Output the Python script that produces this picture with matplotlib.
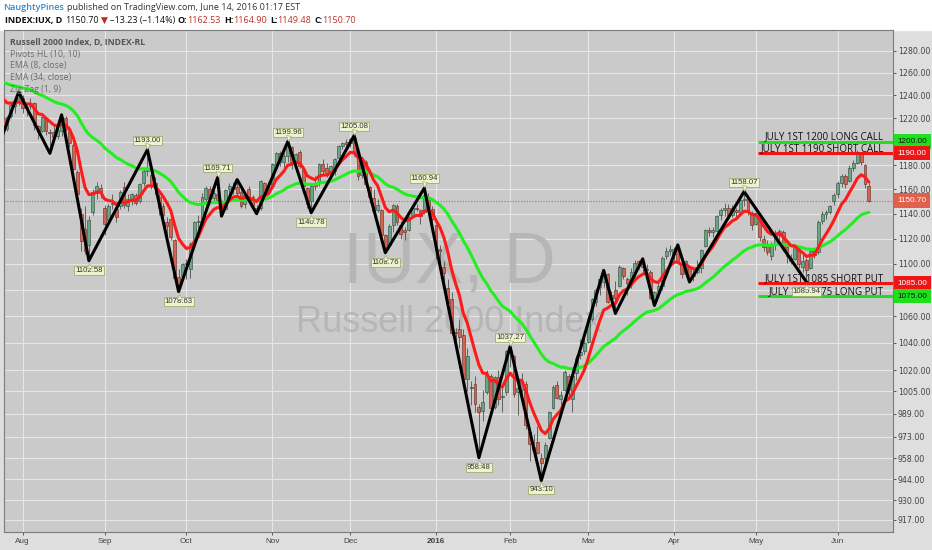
import numpy as np
import pandas as pd
import matplotlib
matplotlib.use("Agg")
import matplotlib.pyplot as plt
from matplotlib.patches import Rectangle
from matplotlib.transforms import offset_copy

# ---------------- data: daily bars (open, high, low, close) ----------------
jul = [(1220, 1221, 1207, 1210), (1211, 1222, 1209, 1221), (1222, 1233, 1220, 1232),
       (1231, 1236, 1225, 1234), (1235, 1243, 1232, 1238)]
aug = [(1238, 1240, 1225, 1229), (1229, 1232, 1222, 1230), (1231, 1238, 1228, 1233),
       (1233, 1234, 1210, 1214), (1213, 1214, 1202, 1208), (1209, 1222, 1208, 1221),
       (1220, 1221, 1206, 1209), (1208, 1211, 1190, 1207), (1208, 1214, 1202, 1204),
       (1205, 1211, 1202, 1210), (1209, 1223, 1205, 1221), (1220, 1222, 1209, 1211),
       (1209, 1213, 1195, 1199), (1197, 1199, 1176, 1177), (1174, 1176, 1155, 1156),
       (1140, 1145, 1110, 1118), (1128, 1146, 1108, 1110), (1115, 1138, 1102.58, 1135),
       (1141, 1160, 1139, 1158), (1157, 1166, 1152, 1163), (1161, 1164, 1153, 1158)]
sep = [(1145, 1147, 1123, 1132), (1135, 1148, 1130, 1146), (1148, 1156, 1144, 1149),
       (1144, 1146, 1133, 1137), (1146, 1159, 1144, 1158), (1162, 1166, 1145, 1147),
       (1146, 1156, 1142, 1152), (1150, 1157, 1147, 1156), (1155, 1157, 1147, 1149),
       (1150, 1165, 1149, 1164), (1165, 1177, 1163, 1175), (1175, 1193, 1171, 1178),
       (1172, 1175, 1160, 1163), (1165, 1170, 1156, 1161), (1154, 1156, 1139, 1145),
       (1146, 1149, 1136, 1139), (1133, 1137, 1118, 1130), (1136, 1139, 1119, 1121),
       (1119, 1120, 1087, 1089), (1090, 1096, 1078.63, 1083), (1091, 1101, 1088, 1100)]
oct_ = [(1101, 1104, 1088, 1100), (1096, 1117, 1089, 1116), (1119, 1134, 1118, 1133),
        (1133, 1139, 1127, 1134), (1136, 1157, 1134, 1154), (1152, 1163, 1147, 1161),
        (1160, 1163, 1149, 1153), (1153, 1160, 1150, 1157), (1156, 1169.71, 1148, 1151),
        (1149, 1151, 1138, 1142), (1144, 1160, 1143, 1159), (1160, 1165, 1155, 1163),
        (1160, 1166, 1156, 1162), (1162, 1168, 1154, 1157), (1158, 1161, 1145, 1146),
        (1148, 1157, 1145, 1155), (1160, 1163, 1151, 1154), (1154, 1155, 1143, 1146),
        (1144, 1147, 1140, 1144), (1145, 1168, 1143, 1167), (1165, 1166, 1153, 1157),
        (1158, 1166, 1157, 1162)]
nov = [(1163, 1182, 1162, 1181), (1180, 1191, 1177, 1190), (1190, 1192, 1179, 1183),
       (1183, 1190, 1175, 1188), (1188, 1199.96, 1183, 1198), (1195, 1196, 1177, 1183),
       (1183, 1190, 1179, 1189), (1191, 1193, 1178, 1179), (1177, 1178, 1162, 1163),
       (1161, 1162, 1145, 1148), (1150, 1164, 1140.78, 1163), (1164, 1171, 1159, 1163),
       (1165, 1182, 1163, 1181), (1181, 1185, 1173, 1175), (1178, 1182, 1170, 1172),
       (1173, 1180, 1169, 1179), (1175, 1186, 1172, 1185), (1186, 1197, 1185, 1196),
       (1196, 1200, 1194, 1199), (1200, 1202, 1194, 1198)]
dec = [(1199, 1203, 1195, 1202), (1203, 1205.08, 1188, 1190), (1191, 1194, 1168, 1171),
       (1172, 1186, 1169, 1184), (1183, 1184, 1162, 1164), (1162, 1163, 1149, 1154),
       (1153, 1160, 1139, 1142), (1143, 1152, 1141, 1147), (1143, 1144, 1121, 1123),
       (1123, 1124, 1108.76, 1113), (1115, 1132, 1114, 1130), (1131, 1148, 1125, 1147),
       (1146, 1148, 1131, 1133), (1131, 1134, 1120, 1124), (1127, 1129, 1119, 1125),
       (1127, 1138, 1126, 1137), (1138, 1147, 1137, 1145), (1145, 1148, 1142, 1144),
       (1143, 1144, 1132, 1138), (1141, 1160.94, 1140, 1155), (1154, 1157, 1143, 1145),
       (1144, 1146, 1133, 1136)]
jan = [(1131, 1132, 1104, 1111), (1112, 1115, 1101, 1110), (1098, 1102, 1087, 1093),
       (1081, 1088, 1066, 1070), (1073, 1078, 1046, 1047), (1048, 1051, 1034, 1047),
       (1050, 1058, 1036, 1044), (1046, 1050, 1011, 1014), (1014, 1036, 1005, 1030),
       (1008, 1012, 995, 1007), (1010, 1016, 990, 996), (994, 996, 958.48, 990),
       (991, 1006, 984, 997), (1004, 1020, 1003, 1017), (1016, 1017, 992, 993),
       (994, 1016, 992, 1015), (1015, 1020, 995, 999), (1001, 1008, 990, 1001),
       (1004, 1035, 1002, 1034)]
feb = [(1034, 1037.27, 1022, 1033), (1030, 1031, 1001, 1003), (1004, 1012, 988, 1007),
       (1006, 1018, 1000, 1012), (1010, 1012, 978, 981), (976, 978, 956, 968),
       (966, 975, 960, 964), (969, 980, 961, 962), (958, 962, 943.10, 955),
       (958, 969, 956, 967), (972, 991, 971, 990), (993, 1009, 992, 1008),
       (1009, 1012, 999, 1000), (999, 1005, 994, 1002), (1006, 1020, 1005, 1019),
       (1016, 1017, 1002, 1006), (999, 1019, 990, 1016), (1018, 1031, 1013, 1029),
       (1031, 1043, 1028, 1033), (1034, 1046, 1032, 1040)]
mar = [(1041, 1060, 1040, 1058), (1058, 1074, 1056, 1073), (1071, 1081, 1068, 1080),
       (1082, 1091, 1076, 1088), (1086, 1095, 1082, 1093), (1092, 1093, 1070, 1071),
       (1073, 1079, 1069, 1076), (1080, 1087, 1062, 1074), (1083, 1099, 1082, 1098),
       (1097, 1098, 1088, 1091), (1088, 1090, 1076, 1085), (1085, 1097, 1081, 1094),
       (1094, 1103, 1090, 1101), (1102, 1103, 1096, 1100), (1100, 1104, 1093, 1098),
       (1095, 1100, 1089, 1096), (1094, 1095, 1073, 1074), (1071, 1079, 1068, 1078),
       (1079, 1086, 1075, 1083), (1083, 1106, 1080, 1105), (1106, 1113, 1104, 1110),
       (1110, 1115, 1107, 1112)]
apr = [(1108, 1113, 1101, 1112), (1112, 1115, 1100, 1102), (1099, 1101, 1089, 1092),
       (1092, 1103, 1090, 1102), (1098, 1099, 1086, 1089), (1091, 1098, 1087, 1092),
       (1094, 1103, 1092, 1096), (1097, 1112, 1093, 1111), (1114, 1128, 1113, 1127),
       (1127, 1129, 1122, 1125), (1125, 1129, 1121, 1127), (1126, 1139, 1125, 1138),
       (1139, 1145, 1135, 1143), (1143, 1149, 1138, 1145), (1145, 1148, 1137, 1139),
       (1139, 1147, 1137, 1145), (1143, 1145, 1136, 1141), (1141, 1153, 1140, 1151),
       (1151, 1158.07, 1146, 1152), (1152, 1155, 1139, 1141), (1140, 1142, 1127, 1131)]
may = [(1132, 1141, 1131, 1139), (1134, 1135, 1118, 1121), (1120, 1123, 1110, 1113),
       (1114, 1119, 1107, 1109), (1106, 1117, 1103, 1116), (1116, 1127, 1111, 1124),
       (1123, 1128, 1119, 1126), (1125, 1127, 1110, 1112), (1113, 1116, 1101, 1106),
       (1105, 1108, 1100, 1102), (1104, 1115, 1103, 1113), (1112, 1114, 1097, 1100),
       (1098, 1108, 1094, 1102), (1103, 1105, 1085.94, 1095), (1097, 1111, 1096, 1110),
       (1110, 1112, 1105, 1107), (1109, 1135, 1108, 1133), (1134, 1142, 1132, 1140),
       (1140, 1143, 1136, 1141), (1141, 1147, 1140, 1146), (1150, 1157, 1147, 1155)]
jun = [(1156, 1167, 1153, 1165), (1165, 1173, 1162, 1171), (1171, 1173, 1161, 1164),
       (1167, 1180, 1166, 1178), (1178, 1184, 1175, 1182), (1182, 1193, 1181, 1190),
       (1189, 1191, 1180, 1183), (1180, 1181, 1161, 1163.93),
       (1162.53, 1164.90, 1149.48, 1150.70)]

month_labels = ["Aug", "Sep", "Oct", "Nov", "Dec", "2016", "Feb", "Mar", "Apr", "May", "Jun"]

# EMA values just before the first bar
ema8_seed = 1244.7
ema34_seed = 1254.5

# Zig Zag (1, 9) turning points: bar number, price
zz_idx = [0, 4, 12, 15, 22, 37, 45, 55, 56, 60, 65, 73, 79, 90, 98, 108, 122, 130, 138,
          154, 157, 164, 167, 173, 176, 190, 206]
zz_price = [1207, 1243, 1190, 1223, 1102.58, 1193.00, 1078.63, 1169.71, 1138, 1168, 1140,
            1199.96, 1140.78, 1205.08, 1108.76, 1160.94, 958.48, 1037.27, 943.10,
            1095, 1062, 1104, 1068, 1115, 1086, 1158.07, 1085.94]

# Pivots HL (10, 10) labels
piv_idx = [22, 37, 45, 55, 73, 79, 90, 98, 108, 122, 130, 138, 190, 206]
piv_price = [1102.58, 1193.00, 1078.63, 1169.71, 1199.96, 1140.78, 1205.08, 1108.76,
             1160.94, 958.48, 1037.27, 943.10, 1158.07, 1085.94]
piv_kind = ["L", "H", "L", "H", "H", "L", "H", "L", "H", "L", "H", "L", "H", "L"]

# option strike lines
opt_levels = [1200, 1190, 1085, 1075]
opt_texts = ["JULY 1ST 1200 LONG CALL", "JULY 1ST 1190 SHORT CALL",
             "JULY 1ST 1085 SHORT PUT", "JULY 1ST 1075 LONG PUT"]
opt_colors = ["#1fe01f", "#f01515", "#f01515", "#1fe01f"]
last_price = 1150.70

y_ticks = [1280, 1260, 1240, 1220, 1200, 1180, 1160, 1140, 1120, 1100, 1080, 1060, 1040,
           1020, 1005, 989, 973, 958, 944, 930, 917]

# ---------------- derived ----------------
months = [jul, aug, sep, oct_, nov, dec, jan, feb, mar, apr, may, jun]
bars = np.array(sum(months, []), dtype=float)
opens, highs, lows, closes = bars.T
n = len(bars)
x = np.arange(n)
month_start = np.cumsum([0] + [len(m) for m in months[:-1]])[1:]

ema8 = pd.Series(np.r_[ema8_seed, closes]).ewm(span=8, adjust=False).mean().values[1:]
ema34 = pd.Series(np.r_[ema34_seed, closes]).ewm(span=34, adjust=False).mean().values[1:]

W, H = 932, 550
UI = ["Open Sans", "DejaVu Sans"]
NUM = ["Liberation Sans", "DejaVu Sans"]

fig = plt.figure(figsize=(W / 100, H / 100), dpi=100, facecolor="#dedede")
fig.add_artist(Rectangle((0, 1 - 30 / H), 1, 30 / H, transform=fig.transFigure,
                         color="white", zorder=-5))
ax = fig.add_axes([4 / W, 18 / H, 889 / W, 502 / H])
ax.set_facecolor("#cacaca")
ax.set_yscale("log")
ax.set_xlim(0.23, 228.18)
ax.set_ylim(909.2, 1299.0)

# grid and ticks
ax.set_yticks(y_ticks)
ax.yaxis.set_minor_locator(matplotlib.ticker.NullLocator())
ax.set_yticklabels(["" if v in (1200, 1080) else f"{v:.2f}" for v in y_ticks])
ax.set_xticks(month_start)
ax.set_xticklabels(month_labels)
for lab in ax.get_xticklabels():
    lab.set_family(NUM)
    if lab.get_text() == "2016":
        lab.set_fontweight("bold")
for lab in ax.get_yticklabels():
    lab.set_family(NUM)
ax.yaxis.tick_right()
ax.tick_params(axis="y", length=2.5, width=0.6, pad=1, labelsize=5.7,
               colors="#444444")
ax.tick_params(axis="x", length=2.5, width=0.6, pad=1.5, labelsize=5.9,
               colors="#444444")
ax.grid(True, color="#e6e6e6", lw=0.8, zorder=0)
ax.set_axisbelow(True)
for s in ax.spines.values():
    s.set_color("#7c7c7c")
    s.set_linewidth(0.8)

# watermark
ax.text(0.5006, 0.498, "IUX, D", transform=ax.transAxes, ha="center", va="baseline",
        fontsize=52, color="#b6b6b6", family=NUM, zorder=1)
ax.text(0.5006, 0.398, "Russell 2000 Index", transform=ax.transAxes, ha="center",
        va="baseline", fontsize=26, color="#b6b6b6", family=NUM, zorder=1)

# last price dotted line
ax.axhline(last_price, color="#e05a50", lw=0.8, ls=(0, (1, 1.5)), zorder=1.5)

# candles
up = closes >= opens
body_lo = np.minimum(opens, closes)
body_h = np.maximum(np.abs(closes - opens), 0.8)
ax.vlines(x, lows, highs, color="#505050", lw=0.6, zorder=2)
ax.bar(x[up], body_h[up], bottom=body_lo[up], width=0.74, color="#68a687",
       edgecolor="#2e4538", linewidth=0.4, zorder=3)
ax.bar(x[~up], body_h[~up], bottom=body_lo[~up], width=0.74, color="#d8614f",
       edgecolor="#5a2a22", linewidth=0.4, zorder=3)

# indicators
ax.plot(x, ema34, color="#22ee22", lw=2.2, zorder=4, solid_capstyle="round")
ax.plot(x, ema8, color="#ff1a1a", lw=2.2, zorder=5, solid_capstyle="round")
ax.plot(zz_idx, zz_price, color="black", lw=2.2, zorder=6, solid_joinstyle="round")

# option lines and notes
for lvl, txt, col in zip(opt_levels, opt_texts, opt_colors):
    ax.hlines(lvl, 193.6, 228.18, color=col, lw=2.2, zorder=6)
    ax.annotate(txt, xy=(225.9, lvl), xytext=(0, 2.5), textcoords="offset pixels",
                ha="right", va="baseline", fontsize=7.0, color="#111111",
                family=UI, zorder=7)

# pivot labels
for i, p, kind in zip(piv_idx, piv_price, piv_kind):
    sgn = 1 if kind == "H" else -1
    ax.annotate(f"{p:.2f}", xy=(i, p), xytext=(0, sgn * 9.5), textcoords="offset pixels",
                ha="center", va="center", fontsize=5.6, color="#333333", family=NUM,
                bbox=dict(boxstyle="square,pad=0.12", fc="#eef3cf", ec="#93a35f", lw=0.5),
                zorder=9)
    tr = offset_copy(ax.transData, fig=fig, x=0, y=sgn * 4.0, units="dots")
    ax.plot(i, p, marker="v" if kind == "H" else "^", ms=3.6, color="#eef3cf",
            mec="#93a35f", mew=0.4, transform=tr, zorder=10)

# right axis price boxes
box_levels = [1200, 1190, last_price, 1085, 1075]
box_bg = ["#1fe01f", "#f01515", "#e0604c", "#f01515", "#1fe01f"]
box_fg = ["#111111", "white", "white", "white", "#111111"]
for v, bg, fg in zip(box_levels, box_bg, box_fg):
    ax.annotate(f"{v:.2f}", xy=(1, v), xycoords=("axes fraction", "data"),
                xytext=(4.5, 0), textcoords="offset pixels", ha="left", va="center",
                fontsize=5.9, color=fg, family=NUM, annotation_clip=False,
                bbox=dict(boxstyle="square,pad=0.45", fc=bg, ec="none"), zorder=12)

# legend texts inside the pane
legend_lines = ["Russell 2000 Index, D, INDEX-RL", "Pivots HL (10, 10)", "EMA (8, close)",
                "EMA (34, close)", "Zig Zag (1, 9)"]
for k, t in enumerate(legend_lines):
    fig.text(10 / W, 1 - (42.3 + 11.75 * k) / H, t, fontsize=6.3, va="center",
             ha="left", family=UI, color="#555555" if k == 0 else "#6e6e6e",
             fontweight="bold" if k == 0 else "normal", zorder=20)

# header
renderer = fig.canvas.get_renderer()


def draw_runs(runs, x0, y0, size):
    xp = x0
    for txt, col, wt, gap in runs:
        t = fig.text(xp / W, 1 - y0 / H, txt, color=col, fontweight=wt, fontsize=size,
                     family=UI, va="center", ha="left")
        xp += t.get_window_extent(renderer=renderer).width + gap


draw_runs([("NaughtyPines", "#2b8bd0", "semibold", 3),
           ("published on TradingView.com, June 14, 2016 01:17 EST", "#333333", "normal", 0)],
          3, 7.5, 6.45)
red = "#b83228"
draw_runs([("INDEX:IUX, D", "#111111", "bold", 3), ("1150.70", "#111111", "normal", 2),
           ("\u25BC", "#c0281e", "normal", 2), ("\u201313.23 (\u20131.14%)", "#111111", "normal", 3),
           ("O:", "#111111", "bold", 0), ("1162.53", red, "normal", 3),
           ("H:", "#111111", "bold", 0), ("1164.90", red, "normal", 3),
           ("L:", "#111111", "bold", 0), ("1149.48", red, "normal", 3),
           ("C:", "#111111", "bold", 0), ("1150.70", red, "normal", 0)],
          5, 20.5, 6.45)

fig.savefig("out.png", dpi=100, facecolor=fig.get_facecolor())
